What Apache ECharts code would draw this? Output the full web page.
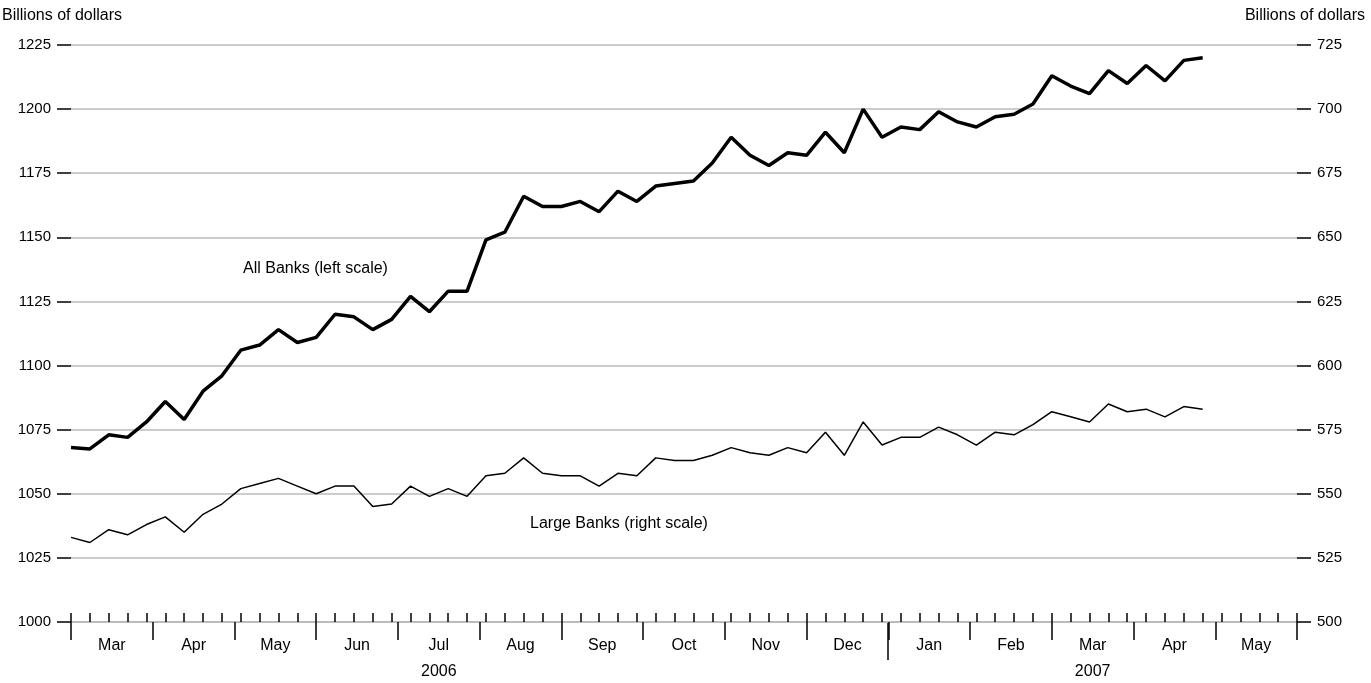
<!DOCTYPE html>
<html>
<head>
<meta charset="utf-8">
<script src="https://cdn.jsdelivr.net/npm/echarts@6/dist/echarts.min.js"></script>
<style>html,body{margin:0;padding:0;background:#fff}#chart{width:1371px;height:683px}</style>
</head>
<body>
<div id="chart"></div>
<script>
// weekly observations, Mar 2006 - Apr 2007
var allBanks = [1068, 1067.5, 1073, 1072, 1078, 1086, 1079, 1090, 1096, 1106, 1108, 1114, 1109, 1111, 1120, 1119,
    1114, 1118, 1127, 1121, 1129, 1129, 1149, 1152, 1166, 1162, 1162, 1164, 1160, 1168, 1164, 1170, 1171, 1172,
    1179, 1189, 1182, 1178, 1183, 1182, 1191, 1183, 1200, 1189, 1193, 1192, 1199, 1195, 1193, 1197, 1198, 1202,
    1213, 1209, 1206, 1215, 1210, 1217, 1211, 1219, 1220];
var largeBanks = [533, 531, 536, 534, 538, 541, 535, 542, 546, 552, 554, 556, 553, 550, 553, 553, 545, 546, 553,
    549, 552, 549, 557, 558, 564, 558, 557, 557, 553, 558, 557, 564, 563, 563, 565, 568, 566, 565, 568, 566, 574,
    565, 578, 569, 572, 572, 576, 573, 569, 574, 573, 577, 582, 580, 578, 585, 582, 583, 580, 584, 583];
var months = ['Mar', 'Apr', 'May', 'Jun', 'Jul', 'Aug', 'Sep', 'Oct', 'Nov', 'Dec', 'Jan', 'Feb', 'Mar', 'Apr', 'May'];
var years = {9: '2006', 25: '2007'}; // positions in half-months
var totalWeeks = 65;
var yearBreak = 10; // month index where 2007 starts

function pairs(arr) {
    return arr.map(function(v, i) { return [i, v]; });
}
function hiddenLine() {
    return { show: true, onZero: false, lineStyle: { color: '#000', opacity: 0 } };
}
function ticks(len, extra) {
    var t = { show: true, length: len, lineStyle: { color: '#000', width: 1.5, opacity: 1 } };
    for (var k in extra) t[k] = extra[k];
    return t;
}
function plain(v) { return String(v); }

var chart = echarts.init(document.getElementById('chart'));
var font = 'Liberation Sans, Arial, sans-serif';
chart.setOption({
    animation: false,
    textStyle: { fontFamily: font },
    grid: { left: 71, right: 74, top: 45, bottom: 61 },
    xAxis: [{
        // weekly ticks, pointing up
        type: 'value', min: 0, max: totalWeeks, interval: 1, position: 'bottom',
        axisLine: { onZero: false, lineStyle: { color: '#bbb', width: 2 } },
        axisTick: ticks(9, { inside: true }),
        axisLabel: { show: false }, splitLine: { show: false }
    }, {
        type: 'category', data: months, boundaryGap: true, position: 'bottom',
        axisLine: hiddenLine(),
        axisTick: ticks(18),
        axisLabel: { color: '#000', fontSize: 16, margin: 16, fontFamily: font },
        splitLine: { show: false }
    }, {
        type: 'value', min: 0, max: 30, interval: 1, position: 'bottom',
        axisLine: { show: false }, axisTick: { show: false }, splitLine: { show: false },
        axisLabel: {
            color: '#000', fontSize: 16, margin: 42, fontFamily: font,
            formatter: function(v) { return years[v] || ''; }
        }
    }],
    yAxis: [{
        type: 'value', min: 1000, max: 1225, interval: 25, position: 'left',
        axisLine: hiddenLine(),
        axisTick: ticks(14),
        axisLabel: { color: '#000', fontSize: 15, margin: 20, fontFamily: font, formatter: plain },
        splitLine: { lineStyle: { color: '#bbb', width: 1.5 } }
    }, {
        type: 'value', min: 500, max: 725, interval: 25, position: 'right',
        axisLine: hiddenLine(),
        axisTick: ticks(14),
        axisLabel: { color: '#000', fontSize: 15, margin: 20, fontFamily: font, formatter: plain },
        splitLine: { show: false }
    }],
    graphic: [
        { id: 'nameL', type: 'text', left: 2, top: 8, style: { text: 'Billions of dollars', fill: '#000', font: '16px ' + font } },
        { id: 'nameR', type: 'text', right: 6, top: 8, style: { text: 'Billions of dollars', fill: '#000', font: '16px ' + font } },
        { id: 'lblAll', type: 'text', left: 243, top: 261, style: { text: 'All Banks (left scale)', fill: '#000', font: '16px ' + font } },
        { id: 'lblLarge', type: 'text', left: 530, top: 516, style: { text: 'Large Banks (right scale)', fill: '#000', font: '16px ' + font } }
    ],
    series: [{
        name: 'All Banks', type: 'line', xAxisIndex: 0, yAxisIndex: 0,
        data: pairs(allBanks), symbol: 'none',
        lineStyle: { color: '#000', width: 3.5 }
    }, {
        name: 'Large Banks', type: 'line', xAxisIndex: 0, yAxisIndex: 1,
        data: pairs(largeBanks), symbol: 'none',
        lineStyle: { color: '#000', width: 1.5 }
    }]
});

// longer tick marking the year change, placed through the month axis
var cJan = chart.convertToPixel({ xAxisIndex: 1 }, yearBreak);
var cNext = chart.convertToPixel({ xAxisIndex: 1 }, yearBreak + 1);
var bx = Math.round(cJan - (cNext - cJan) / 2);
var by = chart.convertToPixel({ yAxisIndex: 0 }, 1000);
chart.setOption({
    graphic: [{
        id: 'yearTick', type: 'line', shape: { x1: bx, y1: by, x2: bx, y2: by + 38 },
        style: { stroke: '#000', lineWidth: 1.5 }
    }]
});
</script>
</body>
</html>
